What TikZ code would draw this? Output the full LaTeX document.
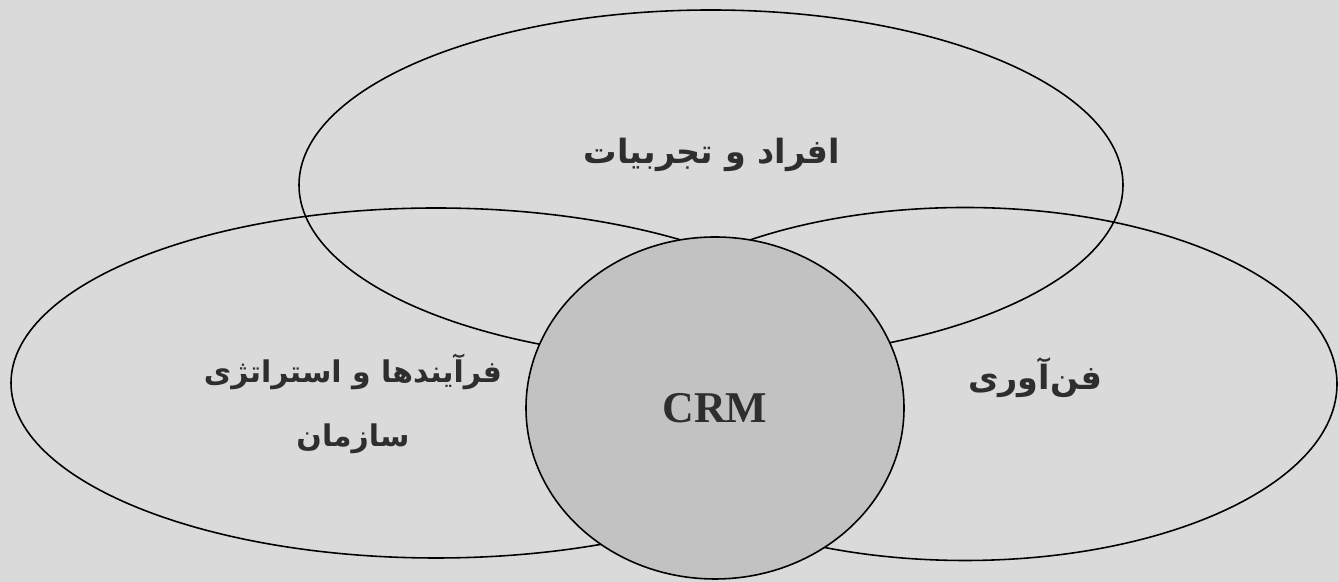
\documentclass[tikz,border=0pt]{standalone}
\usepackage{fontspec}
\setmainfont{Liberation Serif}
\newfontfamily\farsi[Script=Arabic]{DejaVu Sans}
\TeXXeTstate=1
\usetikzlibrary{shapes.geometric}
\definecolor{pageGray}{HTML}{DADADA}
\definecolor{hubGray} {HTML}{C2C2C2}
\definecolor{inkGray} {HTML}{2E2E2E}
\tikzset{
  part/.style={ellipse,draw=black,line width=0.9pt,inner sep=0pt,outer sep=0pt},
  hub/.style={ellipse,draw=black,line width=0.9pt,fill=hubGray,inner sep=0pt,outer sep=0pt,
    minimum width=7.56cm,minimum height=6.84cm},
  fatext/.style={text=inkGray,align=center,font=\farsi\bfseries\fontsize{19}{36}\selectfont},
  hubtext/.style={text=inkGray,font=\bfseries\fontsize{25}{30}\selectfont},
}

\begin{document}
\begin{tikzpicture}[x=1cm,y=1cm]

\fill[pageGray] (0,0) rectangle (26.78,11.64);

% three areas
\node[part,minimum width=16.48cm,minimum height=7.0cm] (people) at (14.22,7.94){};
\node[part,minimum width=17.0cm,minimum height=7.0cm] (process) at (8.72,3.98){};
\node[part,minimum width=14.88cm,minimum height=7.06cm] (tech) at (19.30,3.96){};

% core
\node[hub] (crm) at (14.30,3.48){};

\node[fatext] (peopletext) at (14.24,8.54) {\beginR افراد و تجربیات\endR};
\node[fatext,font=\farsi\bfseries\fontsize{17}{36}\selectfont] (processtext) at (7.06,3.56)
  {\beginR فرآیندها و استراتژی\endR\\\beginR سازمان\endR};
\node[fatext] (techtext) at (20.7,4.08) {\beginR فن‌آوری\endR};
\node[hubtext] (crmtext) at (crm.center) {CRM};

\end{tikzpicture}
\end{document}
